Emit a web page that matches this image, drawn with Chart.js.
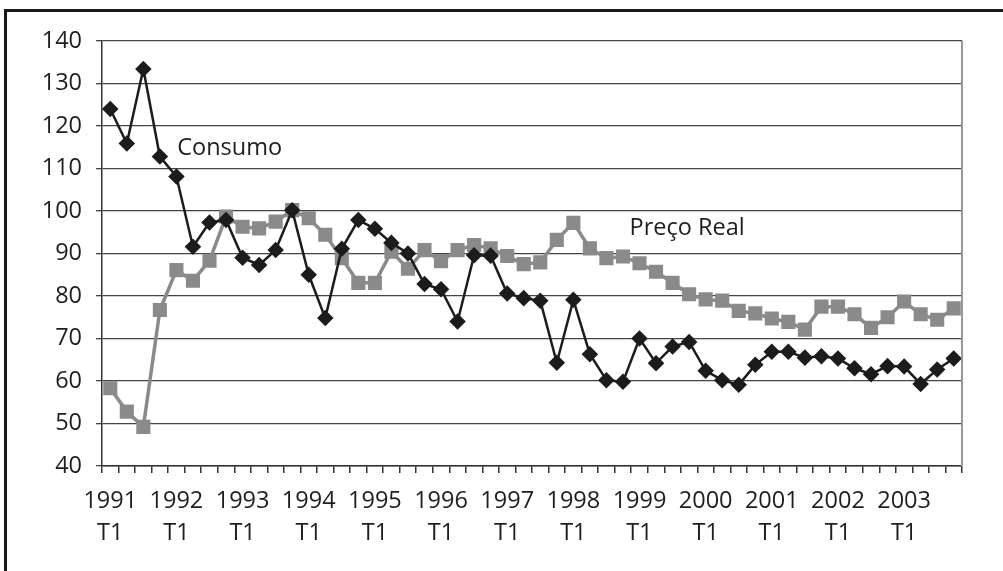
<!DOCTYPE html>
<html>
<head>
<meta charset="utf-8">
<script src="https://cdn.jsdelivr.net/npm/chart.js@4.4.0/dist/chart.umd.min.js"></script>
<style>
  html, body { margin: 0; padding: 0; background: #fff; }
  #wrap { width: 1003px; height: 571px; position: relative; }
</style>
</head>
<body>
<div id="wrap"><canvas id="c" width="1003" height="571"></canvas></div>
<script>
const years = ["1991","1992","1993","1994","1995","1996","1997","1998","1999","2000","2001","2002","2003"];
const quarters = ["T1","T2","T3","T4"];

const consumo = [
  124.0, 115.9, 133.4, 112.8,
  108.1, 91.6, 97.3, 97.9,
  89.0, 87.3, 90.8, 100.2,
  85.0, 74.8, 91.1, 97.9,
  95.8, 92.5, 90.0, 82.8,
  81.6, 74.0, 89.6, 89.5,
  80.6, 79.5, 78.9, 64.3,
  79.1, 66.3, 60.2, 59.8,
  70.0, 64.2, 68.1, 69.2,
  62.4, 60.2, 59.1, 63.8,
  66.9, 66.9, 65.5, 65.8,
  65.3, 63.0, 61.6, 63.5,
  63.4, 59.3, 62.7, 65.3
];

const precoReal = [
  58.3, 52.8, 49.2, 76.7,
  86.1, 83.6, 88.3, 98.7,
  96.3, 95.9, 97.5, 100.2,
  98.3, 94.4, 88.9, 83.1,
  83.1, 90.4, 86.4, 90.8,
  88.2, 90.8, 92.0, 91.2,
  89.4, 87.5, 87.9, 93.2,
  97.2, 91.2, 88.9, 89.3,
  87.7, 85.7, 83.1, 80.4,
  79.2, 78.9, 76.5, 75.9,
  74.7, 73.9, 72.1, 77.5,
  77.5, 75.7, 72.5, 75.0,
  78.7, 75.7, 74.4, 77.1
];

const yTicks = [40, 50, 60, 70, 80, 90, 100, 110, 120, 130, 140];

const annotations = [
  { text: "Consumo", x: 4.05, y: 114.8 },
  { text: "Preço Real", x: 31.4, y: 96.0 }
];

// category labels: year + T1 on the first quarter of each year, blank otherwise
const labels = [];
years.forEach(y => quarters.forEach(q => labels.push(q === "T1" ? [y, q] : "")));

const FONT = "'Open Sans', 'Noto Sans', sans-serif";

const framePlugin = {
  id: 'frame',
  beforeDraw(chart) {
    const ctx = chart.ctx;
    ctx.save();
    ctx.fillStyle = '#fff';
    ctx.fillRect(0, 0, chart.width, chart.height);
    ctx.strokeStyle = '#1a1a1a';
    ctx.lineWidth = 3;
    ctx.beginPath();
    ctx.moveTo(5.5, 571);
    ctx.lineTo(5.5, 10.5);
    ctx.lineTo(1003, 10.5);
    ctx.stroke();
    ctx.restore();
  },
  afterDatasetsDraw(chart) {
    const ctx = chart.ctx;
    const a = chart.chartArea;
    ctx.save();
    ctx.strokeStyle = '#999';
    ctx.lineWidth = 2;
    ctx.beginPath();
    ctx.moveTo(a.right, a.top);
    ctx.lineTo(a.right, a.bottom);
    ctx.stroke();
    const xs = chart.scales.x, ys = chart.scales.y;
    ctx.fillStyle = '#1e1e1e';
    ctx.font = "23.5px " + FONT;
    ctx.textAlign = 'left';
    ctx.textBaseline = 'middle';
    annotations.forEach(an => {
      ctx.fillText(an.text, xs.getPixelForValue(an.x), ys.getPixelForValue(an.y));
    });
    ctx.restore();
  }
};

new Chart(document.getElementById('c'), {
  type: 'line',
  data: {
    labels: labels,
    datasets: [
      {
        label: 'Preço Real',
        data: precoReal,
        borderColor: '#8a8a8a',
        backgroundColor: '#8a8a8a',
        borderWidth: 3.5,
        pointStyle: 'rect',
        pointRadius: 7.5,
        pointHoverRadius: 7.5,
        tension: 0,
        order: 2
      },
      {
        label: 'Consumo',
        data: consumo,
        borderColor: '#1c1c1c',
        backgroundColor: '#1c1c1c',
        borderWidth: 2.5,
        pointStyle: 'rectRot',
        pointRadius: 6.5,
        pointHoverRadius: 6.5,
        tension: 0,
        order: 1
      }
    ]
  },
  options: {
    responsive: false,
    animation: false,
    events: [],
    layout: { padding: { top: 41, right: 41, left: 0, bottom: 0 } },
    plugins: { legend: { display: false }, tooltip: { enabled: false } },
    scales: {
      x: {
        offset: true,
        afterFit(scale) { scale.height = 105; },
        grid: {
          offset: true,
          drawOnChartArea: false,
          drawTicks: true,
          tickLength: 7,
          color: '#333',
          lineWidth: 1.5
        },
        border: { color: '#333', width: 1.5 },
        ticks: {
          autoSkip: false,
          maxRotation: 0,
          minRotation: 0,
          padding: 12,
          color: '#1e1e1e',
          font: { family: FONT, size: 23.5, lineHeight: '32px' }
        }
      },
      y: {
        min: 40,
        max: 140,
        afterFit(scale) { scale.width = 102; },
        afterBuildTicks(scale) { scale.ticks = yTicks.map(v => ({ value: v })); },
        grid: {
          color: '#444',
          lineWidth: 1.3,
          tickLength: 6,
          drawTicks: true
        },
        border: { color: '#333', width: 1.5 },
        ticks: {
          padding: 14,
          color: '#1e1e1e',
          font: { family: FONT, size: 23.5 }
        }
      }
    }
  },
  plugins: [framePlugin]
});
</script>
</body>
</html>
